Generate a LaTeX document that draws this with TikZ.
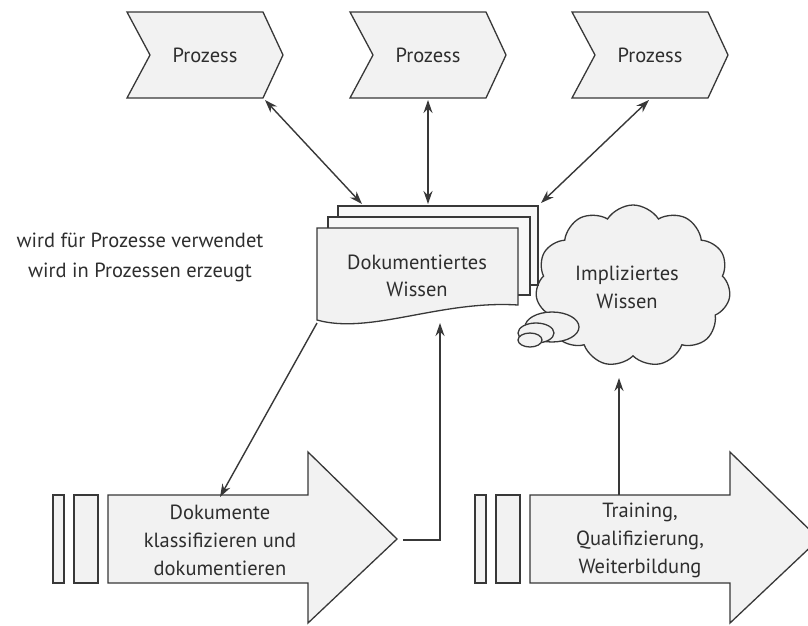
\documentclass[tikz,border=0pt]{standalone}
\usepackage{fontspec}
\setmainfont{PT Sans}
\usetikzlibrary{shapes.symbols,arrows.meta}
\definecolor{ln}{HTML}{383838}
\definecolor{fl}{HTML}{F2F2F2}
\definecolor{tx}{HTML}{2E2E2E}
\begin{document}
\begin{tikzpicture}[x=1pt,y=-1pt,
  shp/.style={draw=ln, fill=fl, line width=1.3pt, line join=miter},
  lbl/.style={text=tx, font=\fontsize{20.5}{28}\selectfont, align=center, inner sep=0pt},
  conn/.style={draw=ln, line width=1.4pt},
  onetip/.style={-{Stealth[length=13pt,width=9pt]}},
  twotip/.style={{Stealth[length=13pt,width=9pt]}-{Stealth[length=13pt,width=9pt]}}]
\clip (0,0) rectangle (808,625);
\fill[white] (0,0) rectangle (808,625);
% chevrons
\foreach \x in {127,350,572}{
  \draw[shp] (\x,12) -- ({\x+136},12) -- ({\x+156},55) -- ({\x+136},98) -- (\x,98) -- ({\x+23},55) -- cycle;
}
\node[lbl] (p1) at (205,55) {Prozess};
\node[lbl] (p2) at (428,55) {Prozess};
\node[lbl] (p3) at (650,55) {Prozess};
% cloud
\node[cloud, cloud puffs=11, cloud puff arc=115, cloud ignores aspect,
      minimum width=195pt, minimum height=162pt, shp] (cl) at (633,286) {};
\draw[shp] (552,327) ellipse [x radius=27, y radius=15];
\draw[shp] (536,333) ellipse [x radius=18, y radius=10];
\draw[shp] (530,340) ellipse [x radius=12, y radius=7];
\node[lbl] (clt) at (627,287) {Impliziertes\\Wissen};
% documents
\draw[shp, fill=fl!60!white] (338,206) rectangle (538,285);
\draw[shp, fill=fl!60!white] (328,217) rectangle (530,295);
\draw[shp] (317,228) -- (518,228) -- (518,305) .. controls (440,300) and (370,335) .. (317,320) -- cycle;
\node[lbl, font=\fontsize{20.5}{27}\selectfont] (doc) at (417,276) {Dokumentiertes\\Wissen};
% left text
\node[lbl, font=\fontsize{20.5}{30}\selectfont] (lt) at (140,257) {wird für Prozesse verwendet\\wird in Prozessen erzeugt};
% big arrows
\draw[shp] (53,495) rectangle (64,583);
\draw[shp] (74,495) rectangle (98,583);
\draw[shp] (108,495) -- (308,495) -- (308,452) -- (397,539) -- (308,623) -- (308,583) -- (108,583) -- cycle;
\node[lbl] (a1) at (220,540) {Dokumente\\klassifizieren und\\dokumentieren};
\draw[shp] (475,495) rectangle (486,583);
\draw[shp] (496,495) rectangle (520,583);
\draw[shp] (530,495) -- (730,495) -- (730,452) -- (819,539) -- (730,623) -- (730,583) -- (530,583) -- cycle;
\node[lbl] (a2) at (640,540) {Training,\\Qualifizierung,\\Weiterbildung};
% connector points
\coordinate (p1b) at (265,100);
\coordinate (p2b) at (428,100);
\coordinate (p3b) at (649,100);
\coordinate (d1) at (362,204);
\coordinate (d2) at (428,204);
\coordinate (d3) at (541,203);
\coordinate (dbl) at (317,323);
\coordinate (a1top) at (220,497);
\coordinate (a1tip) at (403,540);
\coordinate (bend) at (440,540);
\coordinate (dbot) at (440,323);
\coordinate (a2top) at (619,495);
\coordinate (clb) at (619,378);
% connectors
\draw[conn, twotip] (p1b) -- (d1);
\draw[conn, twotip] (p2b) -- (d2);
\draw[conn, twotip] (p3b) -- (d3);
\draw[conn, onetip] (dbl) -- (a1top);
\draw[conn, onetip] (a1tip) -- (bend) -- (dbot);
\draw[conn, onetip] (a2top) -- (clb);
\end{tikzpicture}
\end{document}
